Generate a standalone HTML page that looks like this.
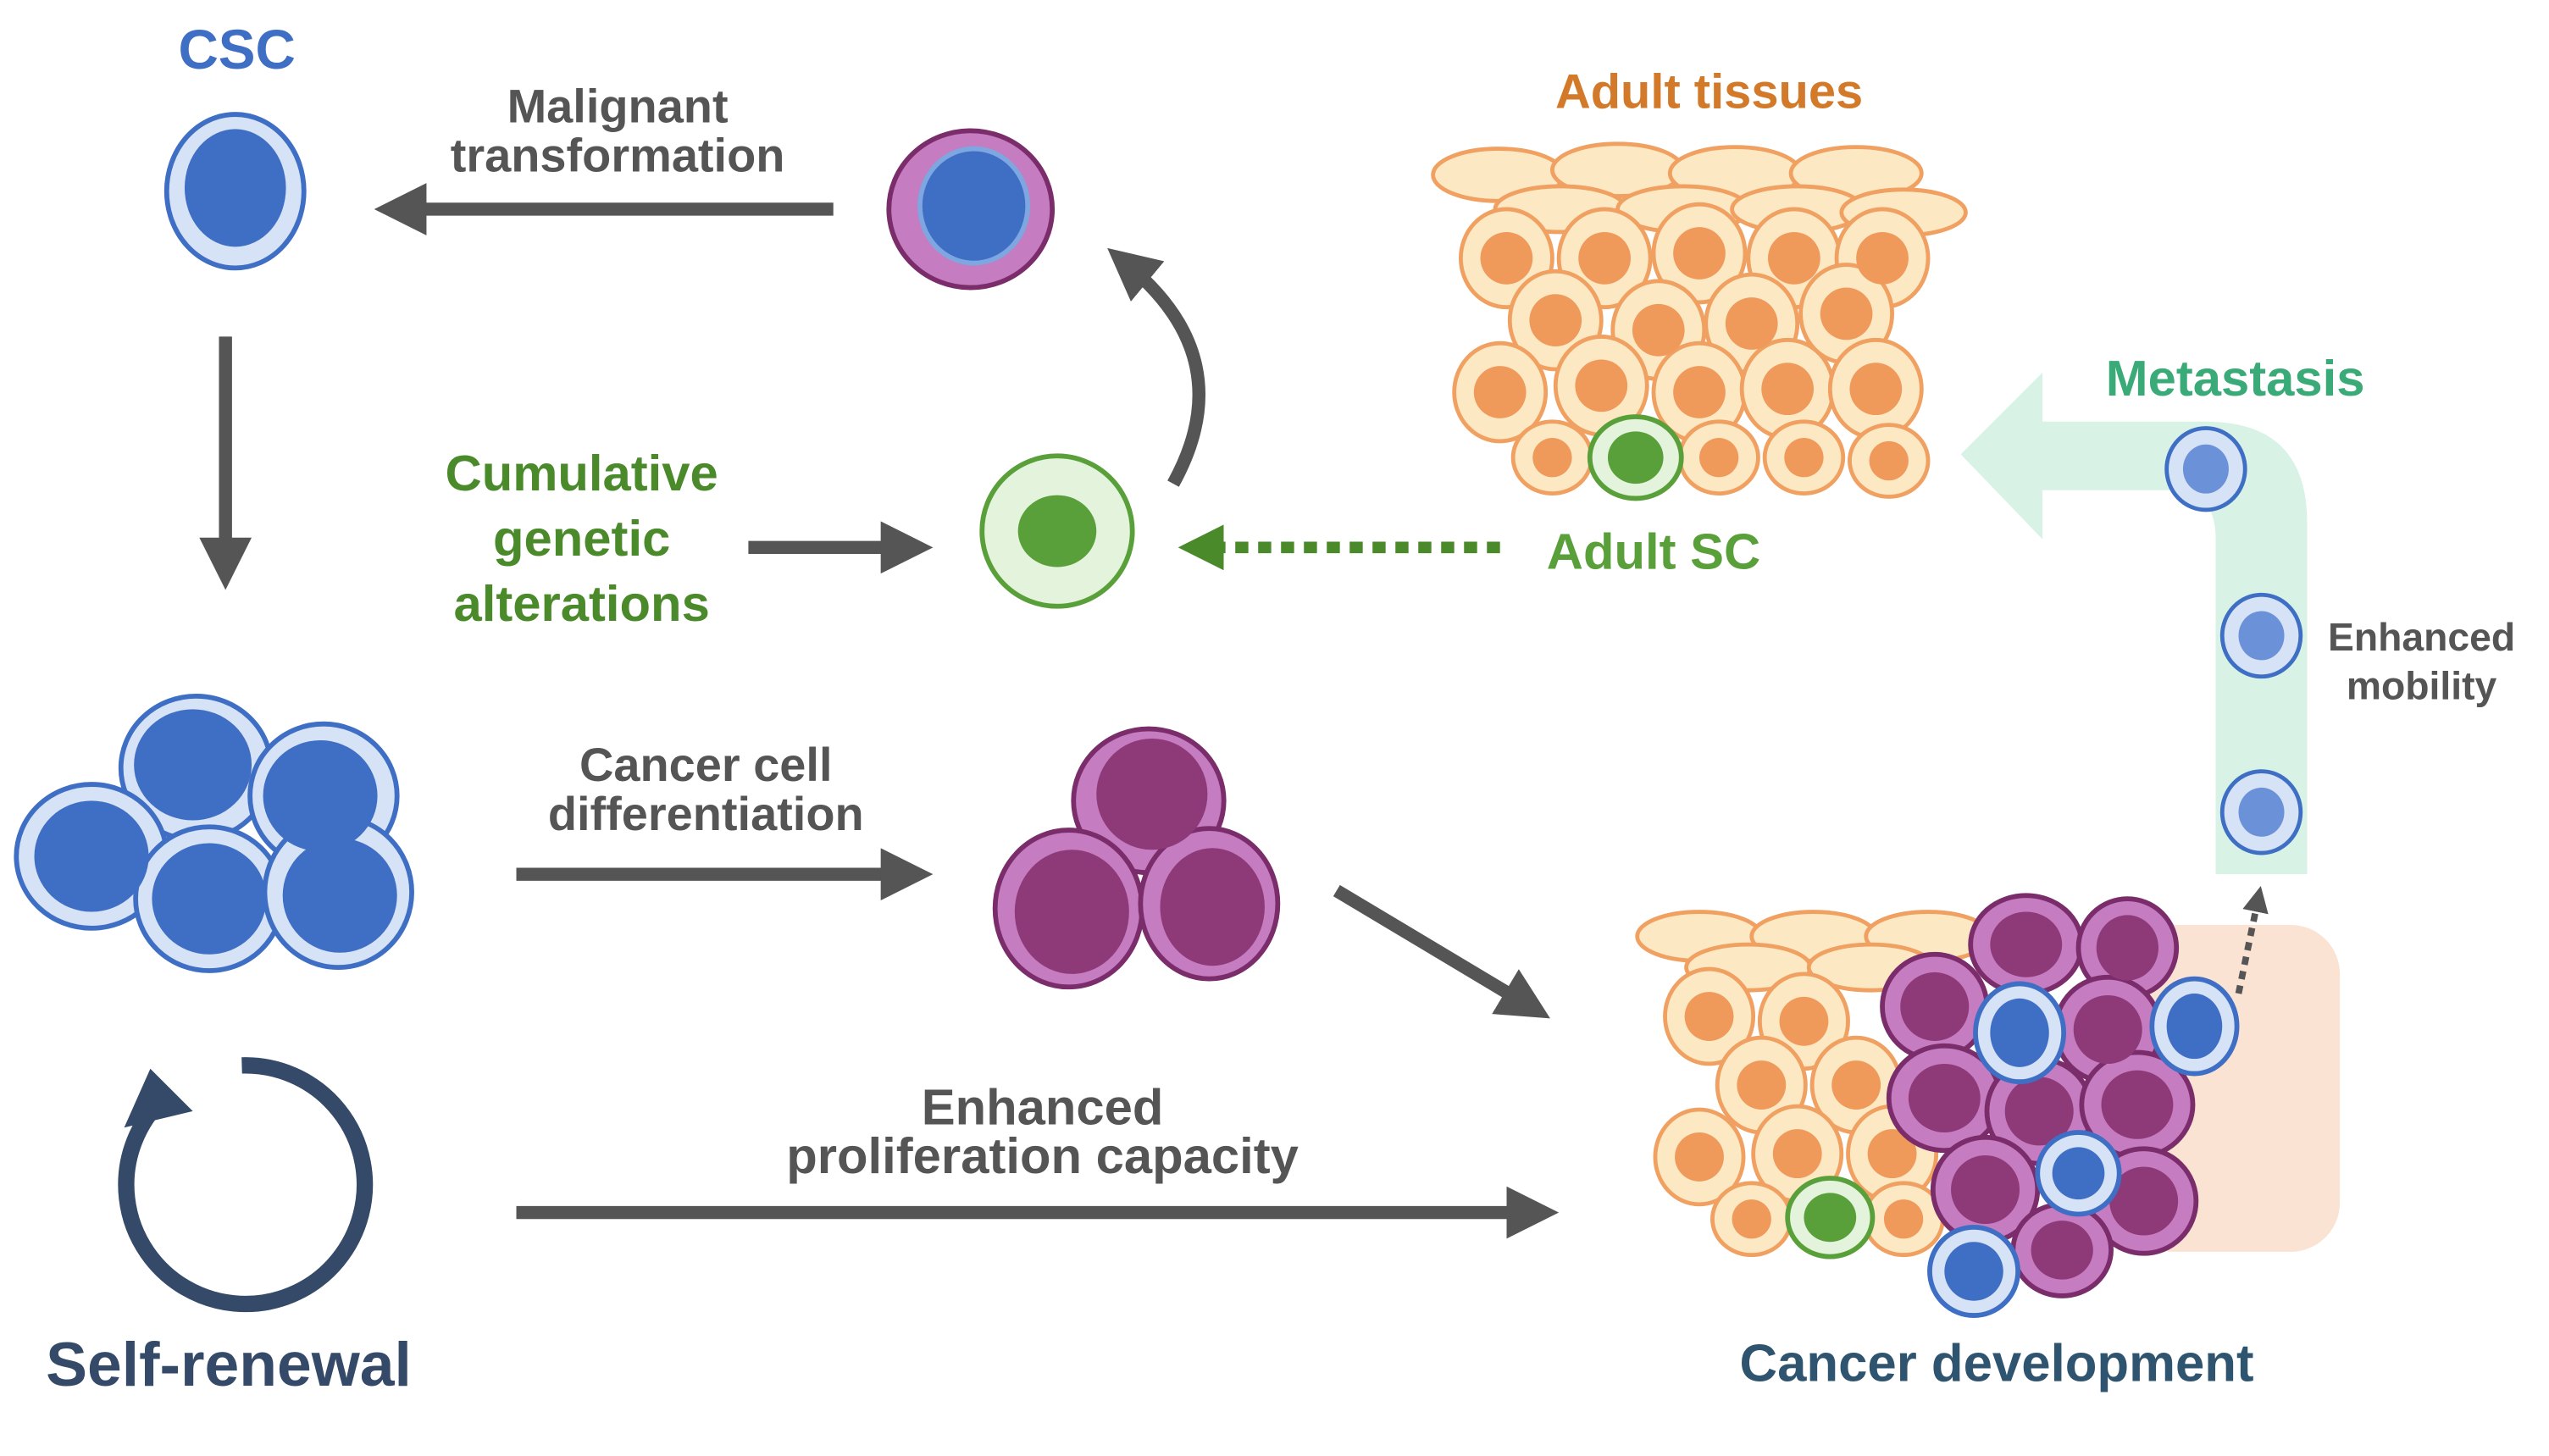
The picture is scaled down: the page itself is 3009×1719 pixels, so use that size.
<!DOCTYPE html>
<html><head><meta charset="utf-8"><style>
html,body{margin:0;padding:0;background:#fff;}
svg{display:block;}
text{font-family:"Liberation Sans",sans-serif;font-weight:bold;}
</style></head><body>
<svg width="3009" height="1719" viewBox="0 0 1560 891" preserveAspectRatio="none" xmlns="http://www.w3.org/2000/svg">
<defs>
<marker id="ah" markerWidth="4" markerHeight="4" refX="2" refY="2" orient="auto" markerUnits="strokeWidth"><path d="M0,0 L4,2 L0,4 z" fill="#555"/></marker>
<marker id="ahg" markerWidth="4" markerHeight="4" refX="2" refY="2" orient="auto" markerUnits="strokeWidth"><path d="M0,0 L4,2 L0,4 z" fill="#4a8a2a"/></marker>
<marker id="ahs" markerWidth="4" markerHeight="4" refX="2" refY="2" orient="auto" markerUnits="strokeWidth"><path d="M0,0 L4,2 L0,4 z" fill="#555"/></marker>
</defs>

<!-- CSC -->
<text x="145" y="42" font-size="34" fill="#3f6fc4" text-anchor="middle">CSC</text>
<ellipse cx="144" cy="117" rx="42" ry="47" fill="#d6e2f5" stroke="#3f6fc4" stroke-width="3"/>
<ellipse cx="144" cy="115" rx="31" ry="36" fill="#3f6fc4"/>

<!-- malignant arrow -->
<text x="378" y="75" font-size="29" fill="#555" text-anchor="middle">Malignant</text>
<text x="378" y="105" font-size="29" fill="#555" text-anchor="middle">transformation</text>
<line x1="510" y1="128" x2="245" y2="128" stroke="#555" stroke-width="8" marker-end="url(#ah)"/>

<!-- purple cell top -->
<ellipse cx="594" cy="128" rx="50" ry="48" fill="#c57cc0" stroke="#7a2d6a" stroke-width="3"/>
<ellipse cx="596" cy="126" rx="33" ry="35" fill="#3f6fc4" stroke="#7ea6e0" stroke-width="3"/>

<!-- curved arrow -->
<path d="M718 296 Q760 220 690 162" fill="none" stroke="#555" stroke-width="8" marker-end="url(#ah)"/>

<!-- CSC down arrow -->
<line x1="138" y1="206" x2="138" y2="345" stroke="#555" stroke-width="8" marker-end="url(#ah)"/>

<!-- cumulative -->
<text x="356" y="300" font-size="31" fill="#4a8a2a" text-anchor="middle">Cumulative</text>
<text x="356" y="340" font-size="31" fill="#4a8a2a" text-anchor="middle">genetic</text>
<text x="356" y="380" font-size="31" fill="#4a8a2a" text-anchor="middle">alterations</text>
<line x1="458" y1="335" x2="555" y2="335" stroke="#555" stroke-width="8" marker-end="url(#ah)"/>

<!-- green cell -->
<ellipse cx="647" cy="325" rx="46" ry="46" fill="#e4f3dc" stroke="#5aa03a" stroke-width="3"/>
<ellipse cx="647" cy="325" rx="24" ry="22" fill="#5aa03a"/>
<line x1="918" y1="335" x2="735" y2="335" stroke="#4a8a2a" stroke-width="7" stroke-dasharray="8,6" marker-end="url(#ahg)"/>
<text x="1012" y="348" font-size="31" fill="#5aa03a" text-anchor="middle">Adult SC</text>

<!-- Adult tissues -->
<text x="1046" y="66" font-size="30" fill="#d27a2a" text-anchor="middle">Adult tissues</text>
<g fill="#fde8c4" stroke="#f0a060" stroke-width="2.5">
<ellipse cx="917" cy="107" rx="40" ry="16"/><ellipse cx="990" cy="104" rx="40" ry="16"/><ellipse cx="1062" cy="106" rx="40" ry="16"/><ellipse cx="1136" cy="106" rx="40" ry="16"/>
<ellipse cx="955" cy="128" rx="40" ry="14"/><ellipse cx="1030" cy="128" rx="40" ry="14"/><ellipse cx="1100" cy="128" rx="40" ry="14"/><ellipse cx="1165" cy="130" rx="38" ry="14"/>
</g>
<g id="tis">
<g fill="#fde8c4" stroke="#f0a060" stroke-width="2.5">
<ellipse cx="922" cy="158" rx="28" ry="30"/><ellipse cx="982" cy="158" rx="28" ry="30"/><ellipse cx="1040" cy="155" rx="28" ry="30"/><ellipse cx="1098" cy="158" rx="28" ry="30"/><ellipse cx="1152" cy="158" rx="28" ry="30"/>
<ellipse cx="952" cy="196" rx="28" ry="30"/><ellipse cx="1015" cy="202" rx="28" ry="30"/><ellipse cx="1072" cy="198" rx="28" ry="30"/><ellipse cx="1130" cy="192" rx="28" ry="30"/>
<ellipse cx="918" cy="240" rx="28" ry="30"/><ellipse cx="980" cy="236" rx="28" ry="30"/><ellipse cx="1040" cy="240" rx="28" ry="30"/><ellipse cx="1094" cy="238" rx="28" ry="30"/><ellipse cx="1148" cy="238" rx="28" ry="30"/>
<ellipse cx="950" cy="280" rx="24" ry="22"/><ellipse cx="1052" cy="280" rx="24" ry="22"/><ellipse cx="1104" cy="280" rx="24" ry="22"/><ellipse cx="1156" cy="282" rx="24" ry="22"/>
</g>
<g fill="#ef9a5a">
<circle cx="922" cy="158" r="16"/><circle cx="982" cy="158" r="16"/><circle cx="1040" cy="155" r="16"/><circle cx="1098" cy="158" r="16"/><circle cx="1152" cy="158" r="16"/>
<circle cx="952" cy="196" r="16"/><circle cx="1015" cy="202" r="16"/><circle cx="1072" cy="198" r="16"/><circle cx="1130" cy="192" r="16"/>
<circle cx="918" cy="240" r="16"/><circle cx="980" cy="236" r="16"/><circle cx="1040" cy="240" r="16"/><circle cx="1094" cy="238" r="16"/><circle cx="1148" cy="238" r="16"/>
<circle cx="950" cy="280" r="12"/><circle cx="1052" cy="280" r="12"/><circle cx="1104" cy="280" r="12"/><circle cx="1156" cy="282" r="12"/>
</g>
</g>
<ellipse cx="1001" cy="280" rx="28" ry="25" fill="#e4f3dc" stroke="#5aa03a" stroke-width="3"/>
<ellipse cx="1001" cy="280" rx="17" ry="16" fill="#5aa03a"/>

<!-- Metastasis band -->
<path d="M1200 278 L1250 228 L1250 258 L1350 258 Q1412 258 1412 320 L1412 535 L1356 535 L1356 330 Q1356 300 1330 300 L1250 300 L1250 330 Z" fill="#d8f3e6"/>
<text x="1368" y="242" font-size="31" fill="#3aaa78" text-anchor="middle">Metastasis</text>
<g>
<ellipse cx="1350" cy="287" rx="24" ry="25" fill="#d6e2f5" stroke="#3f6fc4" stroke-width="2.5"/><ellipse cx="1350" cy="287" rx="14" ry="15" fill="#6b92d8"/>
<ellipse cx="1384" cy="389" rx="24" ry="25" fill="#d6e2f5" stroke="#3f6fc4" stroke-width="2.5"/><ellipse cx="1384" cy="389" rx="14" ry="15" fill="#6b92d8"/>
<ellipse cx="1384" cy="497" rx="24" ry="25" fill="#d6e2f5" stroke="#3f6fc4" stroke-width="2.5"/><ellipse cx="1384" cy="497" rx="14" ry="15" fill="#6b92d8"/>
</g>
<text x="1482" y="398" font-size="24" fill="#555" text-anchor="middle">Enhanced</text>
<text x="1482" y="428" font-size="24" fill="#555" text-anchor="middle">mobility</text>

<!-- CSC cluster -->
<g fill="#d6e2f5" stroke="#3f6fc4" stroke-width="3">
<ellipse cx="120" cy="470" rx="46" ry="44"/><ellipse cx="198" cy="487" rx="45" ry="44"/><ellipse cx="56" cy="524" rx="46" ry="44"/><ellipse cx="128" cy="550" rx="45" ry="44"/><ellipse cx="207" cy="546" rx="45" ry="46"/>
</g>
<g fill="#3f6fc4">
<ellipse cx="118" cy="468" rx="36" ry="34"/><ellipse cx="196" cy="487" rx="35" ry="34"/><ellipse cx="56" cy="524" rx="35" ry="34"/><ellipse cx="128" cy="550" rx="35" ry="34"/><ellipse cx="208" cy="548" rx="35" ry="35"/>
</g>

<!-- differentiation -->
<text x="432" y="478" font-size="29" fill="#555" text-anchor="middle">Cancer cell</text>
<text x="432" y="508" font-size="29" fill="#555" text-anchor="middle">differentiation</text>
<line x1="316" y1="535" x2="555" y2="535" stroke="#555" stroke-width="8" marker-end="url(#ah)"/>

<g fill="#c57cc0" stroke="#7a2d6a" stroke-width="3">
<ellipse cx="703" cy="490" rx="46" ry="44"/><ellipse cx="654" cy="556" rx="45" ry="48"/><ellipse cx="740" cy="553" rx="42" ry="46"/>
</g>
<g fill="#8e3a78">
<ellipse cx="705" cy="486" rx="34" ry="34"/><ellipse cx="656" cy="558" rx="35" ry="38"/><ellipse cx="742" cy="555" rx="32" ry="36"/>
</g>
<line x1="818" y1="545" x2="935" y2="615" stroke="#555" stroke-width="8" marker-end="url(#ah)"/>

<!-- self-renewal -->
<path d="M148 652 A73 73 0 1 1 100 672" fill="none" stroke="#344a68" stroke-width="10"/>
<path d="M76 690 L92 654 L118 680 Z" fill="#344a68"/>
<text x="140" y="848" font-size="38" fill="#344a68" text-anchor="middle">Self-renewal</text>

<text x="638" y="688" font-size="31" fill="#555" text-anchor="middle">Enhanced</text>
<text x="638" y="718" font-size="31" fill="#555" text-anchor="middle">proliferation capacity</text>
<line x1="316" y1="742" x2="938" y2="742" stroke="#555" stroke-width="8" marker-end="url(#ah)"/>

<!-- cancer development -->
<rect x="1300" y="566" width="132" height="200" rx="30" fill="#fbe3d3"/>
<g fill="#fde8c4" stroke="#f0a060" stroke-width="2.5">
<ellipse cx="1040" cy="573" rx="38" ry="15"/><ellipse cx="1110" cy="573" rx="38" ry="15"/><ellipse cx="1180" cy="573" rx="38" ry="15"/>
<ellipse cx="1070" cy="592" rx="38" ry="14"/><ellipse cx="1145" cy="592" rx="38" ry="14"/>
</g>
<g fill="#fde8c4" stroke="#f0a060" stroke-width="2.5">
<ellipse cx="1046" cy="622" rx="27" ry="29"/><ellipse cx="1104" cy="625" rx="27" ry="29"/><ellipse cx="1078" cy="664" rx="27" ry="29"/><ellipse cx="1136" cy="664" rx="27" ry="29"/>
<ellipse cx="1040" cy="708" rx="27" ry="29"/><ellipse cx="1100" cy="706" rx="27" ry="29"/><ellipse cx="1158" cy="706" rx="27" ry="29"/>
<ellipse cx="1072" cy="746" rx="24" ry="22"/><ellipse cx="1165" cy="746" rx="24" ry="22"/>
</g>
<g fill="#ef9a5a">
<circle cx="1046" cy="622" r="15"/><circle cx="1104" cy="625" r="15"/><circle cx="1078" cy="664" r="15"/><circle cx="1136" cy="664" r="15"/>
<circle cx="1040" cy="708" r="15"/><circle cx="1100" cy="706" r="15"/><circle cx="1158" cy="706" r="15"/>
<circle cx="1072" cy="746" r="12"/><circle cx="1165" cy="746" r="12"/>
</g>
<ellipse cx="1120" cy="745" rx="26" ry="24" fill="#e4f3dc" stroke="#5aa03a" stroke-width="3"/>
<ellipse cx="1120" cy="745" rx="16" ry="15" fill="#5aa03a"/>
<g fill="#c57cc0" stroke="#7a2d6a" stroke-width="3">
<ellipse cx="1240" cy="578" rx="34" ry="30"/><ellipse cx="1302" cy="580" rx="30" ry="30"/>
<ellipse cx="1184" cy="616" rx="32" ry="32"/><ellipse cx="1290" cy="630" rx="32" ry="32"/>
<ellipse cx="1190" cy="672" rx="34" ry="32"/><ellipse cx="1248" cy="680" rx="32" ry="32"/><ellipse cx="1308" cy="676" rx="34" ry="32"/>
<ellipse cx="1215" cy="728" rx="32" ry="32"/><ellipse cx="1312" cy="735" rx="32" ry="32"/><ellipse cx="1262" cy="765" rx="30" ry="28"/>
</g>
<g fill="#8e3a78">
<ellipse cx="1240" cy="578" rx="22" ry="20"/><ellipse cx="1302" cy="580" rx="19" ry="20"/>
<ellipse cx="1184" cy="616" rx="21" ry="21"/><ellipse cx="1290" cy="630" rx="21" ry="21"/>
<ellipse cx="1190" cy="672" rx="22" ry="21"/><ellipse cx="1248" cy="680" rx="21" ry="21"/><ellipse cx="1308" cy="676" rx="22" ry="21"/>
<ellipse cx="1215" cy="728" rx="21" ry="21"/><ellipse cx="1312" cy="735" rx="21" ry="21"/><ellipse cx="1262" cy="765" rx="19" ry="18"/>
</g>
<g fill="#d6e2f5" stroke="#3f6fc4" stroke-width="3">
<ellipse cx="1236" cy="632" rx="27" ry="30"/><ellipse cx="1343" cy="628" rx="26" ry="29"/><ellipse cx="1272" cy="718" rx="25" ry="25"/><ellipse cx="1208" cy="778" rx="27" ry="27"/>
</g>
<g fill="#3f6fc4">
<ellipse cx="1236" cy="632" rx="18" ry="21"/><ellipse cx="1343" cy="628" rx="17" ry="20"/><ellipse cx="1272" cy="718" rx="16" ry="16"/><ellipse cx="1208" cy="778" rx="18" ry="18"/>
</g>
<line x1="1370" y1="608" x2="1382" y2="550" stroke="#555" stroke-width="4" stroke-dasharray="5,4" marker-end="url(#ahs)"/>
<text x="1222" y="845" font-size="32" fill="#2f5470" text-anchor="middle">Cancer development</text>
</svg>
</body></html>
